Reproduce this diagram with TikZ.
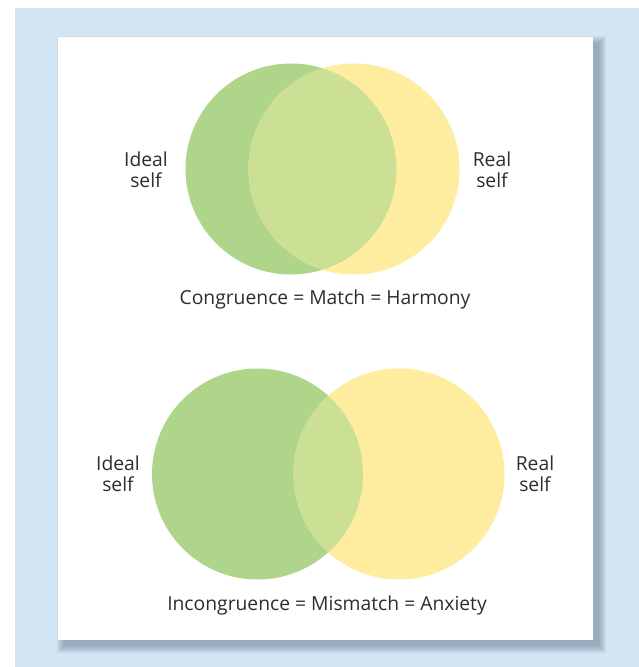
\documentclass[tikz,border=0pt]{standalone}
\usepackage{fontspec}
\setmainfont{Open Sans}
\usepackage{tikz}
\usetikzlibrary{positioning}
\definecolor{pagebg}{RGB}{211,228,243}
\definecolor{shadowgray}{RGB}{70,90,115}
\definecolor{idealgreen}{RGB}{175,213,139}
\definecolor{realyellow}{RGB}{254,236,159}
\definecolor{overlapgreen}{RGB}{203,223,149}
\definecolor{labelgray}{RGB}{45,45,45}

\begin{document}
\begin{tikzpicture}[x=1pt, y=-1pt,
    every node/.style={font=\fontsize{19.3}{21.5}\selectfont, text=labelgray},
    selfcircle/.style={circle, minimum size=211pt, inner sep=0pt},
    selflabel/.style={align=center}]
            \useasboundingbox (0,0) rectangle (639,667);
            % Background
            \fill[pagebg] (15,8) rectangle (639,667);

            % Soft shadow of the panel
            \foreach \s in {0,...,7}
                \fill[shadowgray, opacity=0.06] (64-\s,43-\s) rectangle (599+\s,646+\s);

            % Panel
            \fill[white] (58,37) rectangle (593,640);

            % Congruence circles
            \node[selfcircle, fill=idealgreen] (ideal1) at (291,169) {};
            \node[selfcircle, fill=realyellow] (real1) at (354,169) {};
            \begin{scope}
                \clip (ideal1.center) circle[radius=105.5pt];
                \fill[overlapgreen] (real1.center) circle[radius=105.5pt];
            \end{scope}
            \node[selflabel] (ideallabel1) at (146,170) {Ideal\\self};
            \node[selflabel] (reallabel1) at (492,170) {Real\\self};
            \node (congruence) at (325,299) {Congruence = Match = Harmony};

            % Incongruence circles
            \node[selfcircle, fill=idealgreen] (ideal2) at (257.5,474) {};
            \node[selfcircle, fill=realyellow] (real2) at (399,474) {};
            \begin{scope}
                \clip (ideal2.center) circle[radius=105.5pt];
                \fill[overlapgreen] (real2.center) circle[radius=105.5pt];
            \end{scope}
            \node[selflabel] (ideallabel2) at (118,474) {Ideal\\self};
            \node[selflabel] (reallabel2) at (535,474) {Real\\self};
            \node (incongruence) at (327,605) {Incongruence = Mismatch = Anxiety};
        \end{tikzpicture}
\end{document}
